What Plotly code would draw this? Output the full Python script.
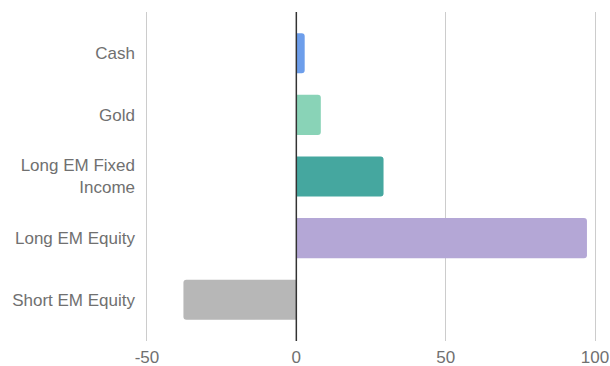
import plotly.graph_objects as go

categories = ["Cash", "Gold", "Long EM Fixed<br>Income", "Long EM Equity", "Short EM Equity"]
values = [2.8, 8.2, 29.2, 97.3, -37.8]
colors = ["#6d9eeb", "#89d3b7", "#45a79f", "#b4a7d6", "#b7b7b7"]
x_ticks = [-50, 0, 50, 100]

fig = go.Figure(
    go.Bar(
        x=values,
        y=categories,
        orientation="h",
        marker=dict(color=colors, line=dict(width=0), cornerradius=3),
        hoverinfo="skip",
    )
)

fig.update_layout(
    width=610,
    height=366,
    margin=dict(l=144, r=12, t=12, b=25),
    paper_bgcolor="white",
    plot_bgcolor="white",
    showlegend=False,
    bargap=0.35,
    font=dict(family="Liberation Sans, Arial, sans-serif", size=17, color="#707070"),
)

fig.update_xaxes(
    range=[-51, 101],
    tickvals=x_ticks,
    ticktext=[str(v) for v in x_ticks],
    showgrid=True,
    gridcolor="#cccccc",
    gridwidth=1,
    zeroline=False,
    showline=False,
    ticks="",
    ticklabelstandoff=4,
    automargin=False,
    tickfont=dict(size=17, color="#707070"),
)

fig.update_yaxes(
    type="category",
    categoryorder="array",
    categoryarray=categories,
    range=[4.67, -0.67],
    showgrid=False,
    zeroline=False,
    showline=False,
    ticks="",
    ticklabelstandoff=8,
    automargin=False,
    tickfont=dict(size=17, color="#707070"),
)

fig.add_shape(
    type="line", xref="x", yref="paper", x0=0, x1=0, y0=0, y1=1,
    line=dict(color="#333333", width=1.5), layer="above",
)

fig.write_html("out.html")
